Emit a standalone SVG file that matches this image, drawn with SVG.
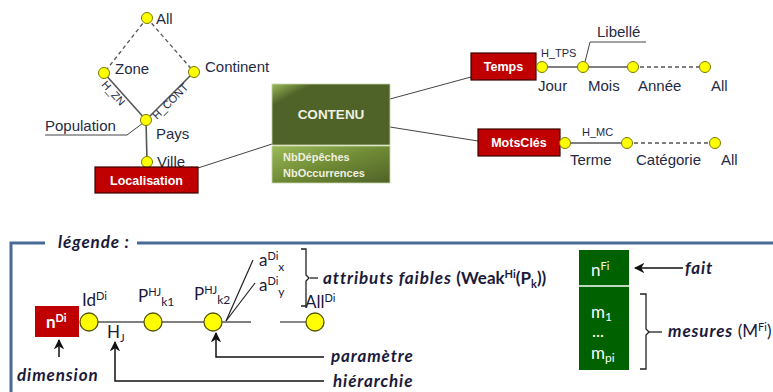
<svg xmlns="http://www.w3.org/2000/svg" width="773" height="392" viewBox="0 0 773 392">
<defs>
<style>
.lbl{font-family:"Liberation Sans",Arial,sans-serif;font-size:15px;fill:#1f2a44}
.sm{font-family:"Liberation Sans",Arial,sans-serif;font-size:11px;fill:#1f2a44}
.dimbox{fill:#c00000;stroke:#3a0000;stroke-width:1.2}
.dimtxt{font-family:"Liberation Sans",Arial,sans-serif;font-size:12.5px;font-weight:bold;fill:#fff;text-anchor:middle}
.nd{fill:#ffff00;stroke:#7a7a00;stroke-width:1}
.ln{stroke:#555;stroke-width:1.6;fill:none}
.ds{stroke:#555;stroke-width:1.3;fill:none;stroke-dasharray:4,3}
.thin{stroke:#444;stroke-width:1;fill:none}
.lg{font-family:Lato,"Open Sans",sans-serif;fill:#1a1a3a;font-size:17px}
.lgi{font-family:Lato,"Open Sans",sans-serif;font-style:italic;font-weight:bold;font-size:17px;letter-spacing:0.9px;fill:#1a1a3a}
.lnd{fill:#ffff00;stroke:#555500;stroke-width:1.3}
.ar{stroke:#111;stroke-width:1.5;fill:none}
.w{fill:#fff}
</style>
<linearGradient id="gTop" x1="0" y1="0" x2="1" y2="1">
<stop offset="0" stop-color="#9bbb59"/><stop offset="0.18" stop-color="#4f6228"/><stop offset="1" stop-color="#4f6228"/>
</linearGradient>
<linearGradient id="gBot" x1="0" y1="0" x2="1" y2="1">
<stop offset="0" stop-color="#9bbb59"/><stop offset="0.5" stop-color="#6f8a35"/><stop offset="1" stop-color="#4f6228"/>
</linearGradient>
<marker id="ah" viewBox="0 0 10 10" refX="9" refY="5" markerWidth="7" markerHeight="7" orient="auto-start-reverse">
<path d="M0,0 L10,5 L0,10 L3,5 z" fill="#111"/>
</marker>
</defs>
<rect width="773" height="392" fill="#fff"/>

<g id="connectors">
<line class="ds" x1="147" y1="18" x2="104" y2="73"/>
<line class="ds" x1="147" y1="18" x2="194" y2="72"/>
<line class="ln" x1="104" y1="73" x2="146" y2="120"/>
<line class="ln" x1="194" y1="72" x2="146" y2="120"/>
<line class="ln" x1="146" y1="120" x2="147" y2="162"/>
<polyline class="thin" points="45,135 127,135 143,123"/>
<line class="thin" x1="198" y1="168" x2="272" y2="144"/>
<line class="thin" x1="390" y1="99" x2="471" y2="77"/>
<line class="thin" x1="390" y1="127" x2="478" y2="141"/>
<line class="ln" x1="542" y1="67" x2="633" y2="67"/>
<line class="ds" x1="633" y1="67" x2="705" y2="67"/>
<polyline class="thin" points="646,42 590,42 585,62"/>
<line class="ln" x1="565" y1="143" x2="627" y2="143"/>
<line class="ds" x1="627" y1="143" x2="715" y2="143"/>
</g>

<text class="sm" transform="translate(101,85) rotate(48)">H_ZN</text>
<text class="sm" transform="translate(157,120) rotate(-45)">H_CONT</text>

<g id="n-all"><circle class="nd" cx="147" cy="18" r="5.5"/><text class="lbl" x="156" y="24">All</text></g>
<g id="n-zone"><circle class="nd" cx="104" cy="73" r="5.5"/><text class="lbl" x="115" y="74">Zone</text></g>
<g id="n-continent"><circle class="nd" cx="194" cy="72" r="5.5"/><text class="lbl" x="205" y="72">Continent</text></g>
<g id="n-pays"><circle class="nd" cx="146" cy="120" r="5.5"/><text class="lbl" x="156" y="139">Pays</text></g>
<g id="n-population"><text class="lbl" x="45" y="131">Population</text></g>
<g id="n-ville"><circle class="nd" cx="147" cy="162" r="5.5"/><text class="lbl" x="157" y="167">Ville</text></g>
<g id="n-localisation"><rect class="dimbox" x="95" y="167" width="103" height="26"/><text class="dimtxt" x="146.5" y="185">Localisation</text></g>

<g id="n-contenu">
<rect x="272" y="84" width="118" height="61" fill="url(#gTop)" stroke="#c8d6a8" stroke-width="0.8"/>
<rect x="272" y="146" width="118" height="37" fill="url(#gBot)" stroke="#c8d6a8" stroke-width="0.8"/>
<text x="331" y="119" text-anchor="middle" font-family="Liberation Sans,Arial,sans-serif" font-size="13.5px" font-weight="bold" fill="#eef0e0">CONTENU</text>
<text x="283" y="161" font-family="Liberation Sans,Arial,sans-serif" font-size="11px" font-weight="bold" fill="#f0f0e0">NbDépêches</text>
<text x="283" y="177" font-family="Liberation Sans,Arial,sans-serif" font-size="11px" font-weight="bold" fill="#f0f0e0">NbOccurrences</text>
</g>

<g id="n-temps"><rect class="dimbox" x="471" y="53" width="65" height="27"/><text class="dimtxt" x="503.5" y="71">Temps</text></g>
<g id="n-jour"><circle class="nd" cx="542" cy="67" r="5.5"/><text class="lbl" x="538" y="91">Jour</text><text class="sm" x="541" y="57">H_TPS</text></g>
<g id="n-mois"><circle class="nd" cx="583" cy="67" r="5.5"/><text class="lbl" x="588" y="91">Mois</text></g>
<g id="n-libelle"><text class="lbl" x="597" y="37">Libellé</text></g>
<g id="n-annee"><circle class="nd" cx="633" cy="67" r="5.5"/><text class="lbl" x="638" y="91">Année</text></g>
<g id="n-all-t"><circle class="nd" cx="705" cy="67" r="5.5"/><text class="lbl" x="711" y="91">All</text></g>

<g id="n-motscles"><rect class="dimbox" x="478" y="129" width="82" height="27"/><text class="dimtxt" x="519" y="147">MotsClés</text></g>
<g id="n-terme"><circle class="nd" cx="565" cy="143" r="5.5"/><text class="lbl" x="570" y="165">Terme</text><text class="sm" x="582" y="136">H_MC</text></g>
<g id="n-categorie"><circle class="nd" cx="627" cy="143" r="5.5"/><text class="lbl" x="636" y="165">Catégorie</text></g>
<g id="n-all-m"><circle class="nd" cx="715" cy="143" r="5.5"/><text class="lbl" x="721" y="165">All</text></g>

<g id="legend">
<polyline points="45,243 11,243 11,392" fill="none" stroke="#4a6a96" stroke-width="3"/>
<line x1="137" y1="243" x2="773" y2="243" stroke="#4a6a96" stroke-width="3"/>
<text class="lgi" x="58" y="248">légende :</text>

<rect x="35" y="306" width="44" height="31" fill="#c00000"/>
<text class="lg w" x="46" y="328" font-weight="bold">n<tspan font-size="11px" dy="-6">Di</tspan></text>

<line x1="89" y1="322" x2="251" y2="322" stroke="#555" stroke-width="1.4"/>
<line x1="280" y1="322" x2="306" y2="322" stroke="#555" stroke-width="1.4"/>
<line x1="226" y1="321" x2="253" y2="260" stroke="#222" stroke-width="1.2"/>
<line x1="226" y1="321" x2="255" y2="283" stroke="#222" stroke-width="1.2"/>
<circle class="lnd" cx="89" cy="322" r="9"/>
<circle class="lnd" cx="153" cy="322" r="9"/>
<circle class="lnd" cx="213" cy="322" r="9"/>
<circle class="lnd" cx="315" cy="322" r="9"/>

<text class="lg" x="82" y="306">Id<tspan font-size="11px" dy="-6">Di</tspan></text>
<text class="lg" x="107" y="338">H<tspan font-size="11px" dy="4">J</tspan></text>
<text class="lg" x="138" y="302">P<tspan font-size="11px" dy="-6">HJ</tspan><tspan font-size="12px" dy="10">k1</tspan></text>
<text class="lg" x="194" y="300">P<tspan font-size="11px" dy="-6">HJ</tspan><tspan font-size="12px" dy="10">k2</tspan></text>
<text class="lg" x="259" y="266">a<tspan font-size="11px" dy="-6">Di</tspan><tspan font-size="12px" dy="11">x</tspan></text>
<text class="lg" x="259" y="291">a<tspan font-size="11px" dy="-6">Di</tspan><tspan font-size="12px" dy="11">y</tspan></text>
<text class="lg" x="305" y="308">All<tspan font-size="11px" dy="-6">Di</tspan></text>

<path d="M301,249 h5 v26 l3,3 l-3,3 v25 h-5" fill="none" stroke="#222" stroke-width="1.3"/>
<line x1="310" y1="278" x2="318" y2="278" stroke="#222" stroke-width="1.3"/>
<text class="lgi" x="323" y="284">attributs faibles <tspan font-style="normal" letter-spacing="0">(Weak<tspan font-size="11px" dy="-6">Hi</tspan><tspan dy="6">(P</tspan><tspan font-size="11px" dy="4">k</tspan><tspan dy="-4">))</tspan></tspan></text>

<line class="ar" x1="59" y1="357" x2="59" y2="340" marker-end="url(#ah)"/>
<text class="lgi" x="17" y="381">dimension</text>
<polyline class="ar" points="324,381 115,381 115,342" marker-end="url(#ah)"/>
<text class="lgi" x="333" y="387">hiérarchie</text>
<polyline class="ar" points="324,357 216,357 216,333" marker-end="url(#ah)"/>
<text class="lgi" x="331" y="362">paramètre</text>

<rect x="579" y="250" width="50" height="120" fill="#006100"/>
<line x1="579" y1="286" x2="629" y2="286" stroke="#fff" stroke-width="1.5"/>
<text class="lg w" x="591" y="276">n<tspan font-size="11px" dy="-6">Fi</tspan></text>
<text class="lg w" x="591" y="318">m<tspan font-size="12px" dy="3">1</tspan></text>
<text class="lg w" x="592" y="337" font-size="15px">...</text>
<text class="lg w" x="591" y="359">m<tspan font-size="12px" dy="3">pi</tspan></text>

<line class="ar" x1="683" y1="268" x2="635" y2="268" marker-end="url(#ah)"/>
<text class="lgi" x="685" y="274">fait</text>
<path d="M640,294 h6 v35 l3,3 l-3,3 v34 h-6" fill="none" stroke="#222" stroke-width="1.3"/>
<line x1="649" y1="332" x2="662" y2="332" stroke="#222" stroke-width="1.3"/>
<text class="lgi" x="668" y="337">mesures <tspan font-style="normal" font-weight="normal" letter-spacing="0">(M<tspan font-size="11px" dy="-6">Fi</tspan><tspan dy="6">)</tspan></tspan></text>
</g>
</svg>
